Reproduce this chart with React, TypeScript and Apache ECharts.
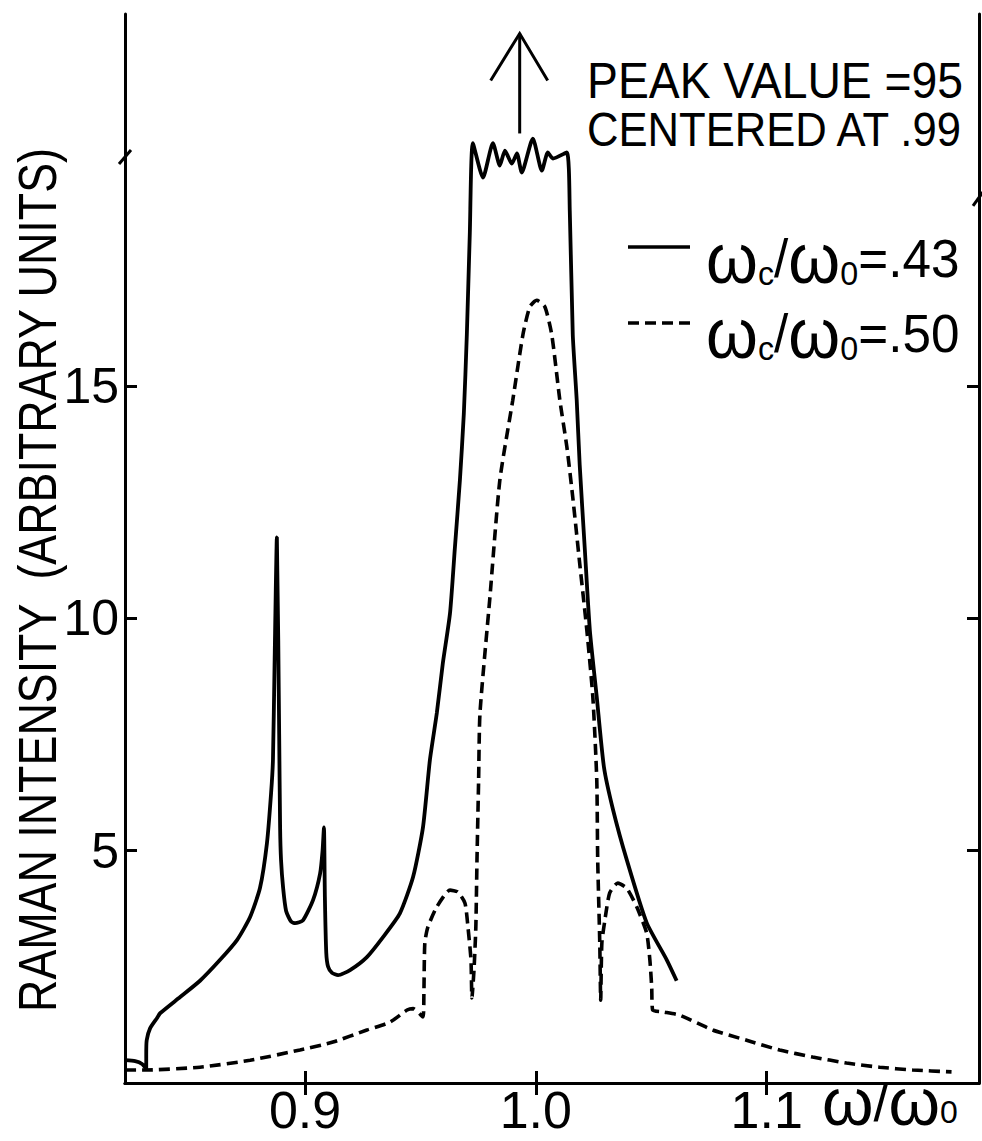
import React, { useEffect, useRef } from "react";
import * as echarts from "echarts";

const FONT = "'Liberation Sans', 'DejaVu Sans', sans-serif";

const xTicks = [0.9, 1.0, 1.1];
const yTicks = [5, 10, 15];
const xRange = [0.822, 1.192];
const yRange = [0, 23];

const seriesNames = ["ωc/ω0=.43", "ωc/ω0=.50"];
const legendRich = ["{o|ω}{s|c}{t|/}{o|ω}{s|0}{t|=.43}", "{o|ω}{s|c}{t|/}{o|ω}{s|0}{t|=.50}"];
const annotationLines = ["PEAK VALUE =95", "CENTERED AT .99"];
const yAxisTitle = "RAMAN INTENSITY  (ARBITRARY UNITS)";
const xAxisTitle = "{o|ω}{t|/}{o|ω}{s|0}";
const peakCenter = 0.993;
const peakArrow = [20.43, 22.58];

// omega_c/omega_0 = .43 (solid)
const solidCurve = [
  [0.8221, 0.49], [0.8264, 0.47], [0.8294, 0.41], [0.8312, 0.3], [0.8312, 0.6],
  [0.8314, 0.92], [0.8329, 1.18], [0.8359, 1.4], [0.8372, 1.5], [0.8459, 1.85],
  [0.8545, 2.2], [0.8632, 2.65], [0.8706, 3.08], [0.8762, 3.57], [0.8805, 4.2],
  [0.8835, 5.16], [0.8853, 6.24], [0.8861, 6.95], [0.8868, 9.0], [0.8878, 11.74],
  [0.8888, 7.5], [0.8892, 5.5], [0.8896, 4.8], [0.8905, 4.2], [0.8918, 3.7],
  [0.894, 3.47], [0.8957, 3.44], [0.8991, 3.5], [0.9035, 3.94], [0.9065, 4.5],
  [0.9076, 5.0], [0.9082, 5.5], [0.9086, 4.0], [0.9092, 2.8], [0.91, 2.5],
  [0.9117, 2.37], [0.9143, 2.32], [0.9195, 2.43], [0.9268, 2.71], [0.9338, 3.14],
  [0.9411, 3.65], [0.9468, 4.43], [0.9511, 5.5], [0.9541, 6.95], [0.9571, 7.96],
  [0.9597, 9.03], [0.9628, 10.1], [0.9649, 11.5], [0.9671, 12.97], [0.9688, 14.4],
  [0.9701, 16.1], [0.9714, 18.3], [0.9727, 20.22], [0.9771, 19.48], [0.9814, 20.22],
  [0.9844, 19.74], [0.9866, 20.06], [0.9896, 19.78], [0.9918, 20.0], [0.9939, 19.59],
  [0.9987, 20.32], [1.0026, 19.63], [1.0052, 20.02], [1.0074, 19.89], [1.0134, 20.02],
  [1.0147, 18.77], [1.016, 16.1], [1.0177, 14.7], [1.019, 13.3], [1.0212, 11.5],
  [1.0234, 9.74], [1.0264, 8.3], [1.0295, 6.8], [1.0335, 5.87], [1.0394, 4.8],
  [1.048, 3.45], [1.0567, 2.65], [1.061, 2.2],
];

// omega_c/omega_0 = .50 (dashed)
const dashedCurve = [
  [0.822, 0.28], [0.8307, 0.28], [0.8545, 0.34], [0.8762, 0.49], [0.8978, 0.71],
  [0.9121, 0.88], [0.9268, 1.14], [0.9368, 1.31], [0.9442, 1.57], [0.9468, 1.6],
  [0.9511, 1.42], [0.9515, 1.94], [0.9519, 3.01], [0.9532, 3.35], [0.9571, 3.79],
  [0.9628, 4.15], [0.9662, 4.11], [0.9693, 3.87], [0.9706, 3.35], [0.9719, 2.65],
  [0.9723, 1.83], [0.9732, 2.43], [0.974, 3.35], [0.9745, 4.8], [0.9752, 6.5],
  [0.9758, 7.96], [0.9801, 10.45], [0.9844, 12.97], [0.99, 14.69], [0.9944, 16.1],
  [0.9974, 16.7], [1.0004, 16.84], [1.0039, 16.7], [1.0069, 16.1], [1.0104, 14.69],
  [1.0134, 13.7], [1.016, 12.6], [1.019, 11.18], [1.0221, 9.74], [1.0247, 8.3],
  [1.0264, 6.52], [1.0268, 4.8], [1.0277, 3.01], [1.0281, 1.78], [1.0286, 3.01],
  [1.0299, 3.5], [1.032, 4.09], [1.0355, 4.3], [1.0394, 4.19], [1.0437, 3.79],
  [1.048, 3.23], [1.0494, 2.65], [1.0502, 2.06], [1.0506, 1.57], [1.055, 1.53],
  [1.0623, 1.46], [1.0766, 1.14], [1.0913, 0.92], [1.1056, 0.71], [1.1199, 0.56],
  [1.1346, 0.43], [1.1489, 0.34], [1.1632, 0.28], [1.1801, 0.24],
];

const DASH = [11, 6];

export default function App() {
  const ref = useRef<HTMLDivElement>(null);
  useEffect(() => {
    if (!ref.current) return;
    const chart = echarts.init(ref.current, undefined, { renderer: "svg" });
    const axisLine = { lineStyle: { color: "#000", width: 3 } };
    const tick = (vals: number[]) => ({
      show: true,
      inside: true,
      length: 12,
      customValues: vals,
      lineStyle: { color: "#000", width: 3 },
    });
    const option: any = {
      animation: false,
      backgroundColor: "#fff",
      grid: { left: 125, right: 3, top: 14, bottom: 58, containLabel: false },
      xAxis: [
        {
          type: "value",
          min: xRange[0],
          max: xRange[1],
          position: "bottom",
          axisLine,
          axisTick: tick(xTicks),
          splitLine: { show: false },
          axisLabel: {
            customValues: xTicks,
            formatter: (v: number) => v.toFixed(1),
            color: "#000",
            fontSize: 52,
            fontFamily: FONT,
            margin: 1,
          },
        },
        {
          type: "value",
          min: xRange[0],
          max: xRange[1],
          position: "top",
          axisLine,
          axisTick: tick(xTicks),
          splitLine: { show: false },
          axisLabel: { show: false },
        },
      ],
      yAxis: [
        {
          type: "value",
          min: yRange[0],
          max: yRange[1],
          position: "left",
          axisLine,
          axisTick: tick(yTicks),
          splitLine: { show: false },
          axisLabel: {
            customValues: yTicks,
            formatter: (v: number) => String(v),
            color: "#000",
            fontSize: 50,
            fontFamily: FONT,
            margin: 6,
          },
        },
        {
          type: "value",
          min: yRange[0],
          max: yRange[1],
          position: "right",
          axisLine,
          axisTick: tick(yTicks),
          splitLine: { show: false },
          axisLabel: { show: false },
        },
      ],
      series: [
        {
          name: seriesNames[0],
          type: "line",
          data: solidCurve,
          showSymbol: false,
          symbol: "none",
          smooth: 0.2,
          lineStyle: { color: "#000", width: 3.8, type: "solid" },
          itemStyle: { color: "#000" },
        },
        {
          name: seriesNames[1],
          type: "line",
          data: dashedCurve,
          showSymbol: false,
          symbol: "none",
          smooth: 0.2,
          lineStyle: { color: "#000", width: 3.6, type: DASH },
          itemStyle: { color: "#000" },
        },
      ],
    };
    chart.setOption(option);

    const [ax, ayBottom] = chart.convertToPixel({ gridIndex: 0 }, [peakCenter, peakArrow[0]]);
    const [, ayTop] = chart.convertToPixel({ gridIndex: 0 }, [peakCenter, peakArrow[1]]);
    const [gl] = chart.convertToPixel({ gridIndex: 0 }, [xRange[0], yRange[1]]);
    const [gr] = chart.convertToPixel({ gridIndex: 0 }, [xRange[1], yRange[1]]);
    const [, yBreakL] = chart.convertToPixel({ gridIndex: 0 }, [xRange[0], 19.9]);
    const [, yBreakR] = chart.convertToPixel({ gridIndex: 0 }, [xRange[0], 19.0]);

    const richTokens = {
      o: { fontSize: 70, fontFamily: FONT, lineHeight: 64, fill: "#000" },
      t: { fontSize: 54, fontFamily: FONT, lineHeight: 64, fill: "#000" },
      s: { fontSize: 34, fontFamily: FONT, verticalAlign: "bottom", fill: "#000" },
    };
    const legendY = [247, 323];
    const legendTextY = [258, 333];

    const legendEls: any[] = [];
    seriesNames.forEach((_, i) => {
      legendEls.push({
        type: "line",
        shape: { x1: 628, y1: legendY[i], x2: 690, y2: legendY[i] },
        style: {
          stroke: "#000",
          lineWidth: 3.6,
          lineDash: i === 1 ? DASH : null,
        },
      });
      legendEls.push({
        type: "text",
        x: 706,
        y: legendTextY[i],
        scaleX: 0.95,
        style: {
          text: legendRich[i],
          fill: "#000",
          align: "left",
          verticalAlign: "middle",
          rich: richTokens,
        },
      });
    });

    chart.setOption({
      graphic: [
        {
          type: "line",
          shape: { x1: ax, y1: ayBottom, x2: ax, y2: ayTop },
          style: { stroke: "#000", lineWidth: 3 },
        },
        {
          type: "polyline",
          shape: { points: [[ax - 29, ayTop + 47], [ax, ayTop], [ax + 28, ayTop + 47]] },
          style: { stroke: "#000", lineWidth: 3, fill: "none" },
        },
        {
          type: "line",
          shape: { x1: gl - 6, y1: yBreakL + 6, x2: gl + 6, y2: yBreakL - 8 },
          style: { stroke: "#000", lineWidth: 3 },
        },
        {
          type: "line",
          shape: { x1: gr - 6, y1: yBreakR + 6, x2: gr + 4, y2: yBreakR - 8 },
          style: { stroke: "#000", lineWidth: 3 },
        },
        {
          type: "text",
          x: 587,
          y: 81,
          scaleX: 0.945,
          style: {
            text: annotationLines[0],
            fontSize: 49,
            fontFamily: FONT,
            fill: "#000",
            align: "left",
            verticalAlign: "middle",
          },
        },
        {
          type: "text",
          x: 587,
          y: 129,
          scaleX: 0.89,
          style: {
            text: annotationLines[1],
            fontSize: 49,
            fontFamily: FONT,
            fill: "#000",
            align: "left",
            verticalAlign: "middle",
          },
        },
        {
          type: "text",
          x: 38,
          y: 580,
          rotation: Math.PI / 2,
          scaleX: 0.83,
          style: {
            text: yAxisTitle,
            fontSize: 54,
            fontFamily: FONT,
            fill: "#000",
            align: "center",
            verticalAlign: "middle",
          },
        },
        {
          type: "text",
          x: 822,
          y: 1102,
          scaleX: 1,
          style: {
            text: xAxisTitle,
            fill: "#000",
            align: "left",
            verticalAlign: "middle",
            rich: {
              o: { fontSize: 66, fontFamily: FONT, lineHeight: 52, fill: "#000" },
              t: { fontSize: 54, fontFamily: FONT, lineHeight: 52, fill: "#000" },
              s: { fontSize: 32, fontFamily: FONT, verticalAlign: "bottom", fill: "#000" },
            },
          },
        },
        ...legendEls,
      ],
    });
    return () => chart.dispose();
  }, []);
  return (
    <div
      ref={ref}
      style={{ position: "fixed", left: 0, top: 0, width: 982, height: 1141, background: "#fff" }}
    />
  );
}
